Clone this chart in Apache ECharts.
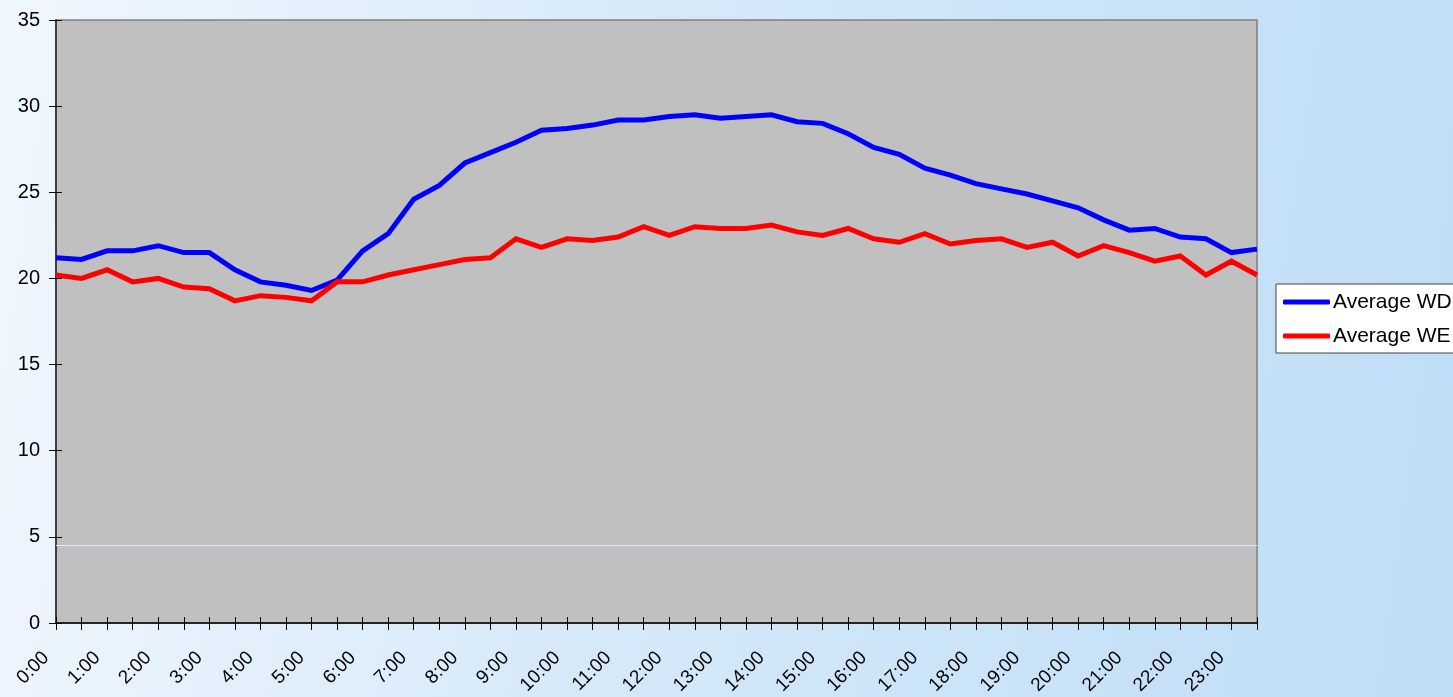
<!DOCTYPE html>
<html>
<head>
<meta charset="utf-8">
<title>Average WD / WE</title>
<script src="https://cdn.jsdelivr.net/npm/echarts@6/dist/echarts.min.js"></script>
<style>
  html, body { margin: 0; padding: 0; width: 100%; height: 100%; overflow: hidden; }
  #chart { width: 1453px; height: 697px; }
</style>
</head>
<body>
<div id="chart"></div>
<script>
// Half-hourly time slots
const timeSlots = [
  '0:00','0:30','1:00','1:30','2:00','2:30','3:00','3:30',
  '4:00','4:30','5:00','5:30','6:00','6:30','7:00','7:30',
  '8:00','8:30','9:00','9:30','10:00','10:30','11:00','11:30',
  '12:00','12:30','13:00','13:30','14:00','14:30','15:00','15:30',
  '16:00','16:30','17:00','17:30','18:00','18:30','19:00','19:30',
  '20:00','20:30','21:00','21:30','22:00','22:30','23:00','23:30'
];

// Weekday average
const averageWD = [
  21.2, 21.1, 21.6, 21.6, 21.9, 21.5, 21.5, 20.5,
  19.8, 19.6, 19.3, 19.9, 21.6, 22.6, 24.6, 25.4,
  26.7, 27.3, 27.9, 28.6, 28.7, 28.9, 29.2, 29.2,
  29.4, 29.5, 29.3, 29.4, 29.5, 29.1, 29.0, 28.4,
  27.6, 27.2, 26.4, 26.0, 25.5, 25.2, 24.9, 24.5,
  24.1, 23.4, 22.8, 22.9, 22.4, 22.3, 21.5, 21.7
];

// Weekend average
const averageWE = [
  20.2, 20.0, 20.5, 19.8, 20.0, 19.5, 19.4, 18.7,
  19.0, 18.9, 18.7, 19.8, 19.8, 20.2, 20.5, 20.8,
  21.1, 21.2, 22.3, 21.8, 22.3, 22.2, 22.4, 23.0,
  22.5, 23.0, 22.9, 22.9, 23.1, 22.7, 22.5, 22.9,
  22.3, 22.1, 22.6, 22.0, 22.2, 22.3, 21.8, 22.1,
  21.3, 21.9, 21.5, 21.0, 21.3, 20.2, 21.0, 20.2
];

const yMin = 0, yMax = 35, yStep = 5;
const paleLineLevel = 4.53;

const FONT = 'Arial, "Liberation Sans", sans-serif';

const chart = echarts.init(document.getElementById('chart'), null, { renderer: 'canvas' });

chart.setOption({
  animation: false,
  backgroundColor: new echarts.graphic.LinearGradient(0, 0, 1, 0.3, [
    { offset: 0, color: '#f0f7fe' },
    { offset: 0.45, color: '#d6e9f9' },
    { offset: 1, color: '#c0def6' }
  ]),
  textStyle: { fontFamily: FONT },
  grid: {
    left: 56, right: 196, top: 20, bottom: 74,
    outerBoundsMode: 'none',
    show: true,
    backgroundColor: '#c0c0c0',
    borderColor: '#808080',
    borderWidth: 1.5
  },
  legend: {
    orient: 'vertical',
    left: 1276, top: 284,
    padding: [6, 30, 5, 7],
    backgroundColor: '#ffffff',
    borderColor: '#444444',
    borderWidth: 1,
    borderRadius: 0,
    itemWidth: 47,
    itemHeight: 5,
    itemGap: 10,
    icon: 'roundRect',
    textStyle: { fontFamily: FONT, fontSize: 21, color: '#000', lineHeight: 24, padding: [0, 0, 0, -2] },
    data: ['Average WD', 'Average WE']
  },
  xAxis: [
    {
      type: 'category',
      data: timeSlots,
      boundaryGap: false,
      position: 'bottom',
      axisLine: { show: true, lineStyle: { color: '#000', width: 1.5 } },
      axisTick: { show: true, interval: 0, inside: false, length: 7, lineStyle: { color: '#000', width: 1 } },
      axisLabel: {
        interval: 1,
        rotate: 45,
        margin: 22,
        padding: [0, 14, 0, 0],
        fontSize: 19,
        color: '#000',
        fontFamily: FONT
      },
      splitLine: { show: false }
    },
    {
      type: 'category',
      data: timeSlots,
      boundaryGap: false,
      position: 'bottom',
      axisLine: { show: false },
      axisTick: { show: true, interval: 0, inside: true, length: 6, lineStyle: { color: '#000', width: 1 } },
      axisLabel: { show: false },
      splitLine: { show: false }
    }
  ],
  yAxis: [
    {
      type: 'value',
      min: yMin, max: yMax, interval: yStep,
      position: 'left',
      axisLine: { show: true, lineStyle: { color: '#222', width: 1.5 } },
      axisTick: { show: true, inside: false, length: 7, lineStyle: { color: '#000', width: 1 } },
      axisLabel: { margin: 16, fontSize: 20, color: '#000', fontFamily: FONT },
      splitLine: { show: false }
    },
    {
      type: 'value',
      min: yMin, max: yMax, interval: yStep,
      position: 'left',
      axisLine: { show: false },
      axisTick: { show: true, inside: true, length: 6, lineStyle: { color: '#000', width: 1 } },
      axisLabel: { show: false },
      splitLine: { show: false }
    }
  ],
  series: [
    {
      name: 'Average WD',
      type: 'line',
      xAxisIndex: 0, yAxisIndex: 0,
      data: averageWD,
      showSymbol: false,
      symbol: 'none',
      color: '#0000ff',
      lineStyle: { color: '#0000ff', width: 5, join: 'miter' },
      z: 3,
      markLine: {
        silent: true,
        symbol: ['none', 'none'],
        label: { show: false },
        lineStyle: { color: '#dcecf9', type: 'solid', width: 1 },
        data: [{ yAxis: paleLineLevel }],
        z: 1
      }
    },
    {
      name: 'Average WE',
      type: 'line',
      xAxisIndex: 0, yAxisIndex: 0,
      data: averageWE,
      showSymbol: false,
      symbol: 'none',
      color: '#ff0000',
      lineStyle: { color: '#ff0000', width: 5, join: 'miter' },
      z: 3
    }
  ]
});
</script>
</body>
</html>
